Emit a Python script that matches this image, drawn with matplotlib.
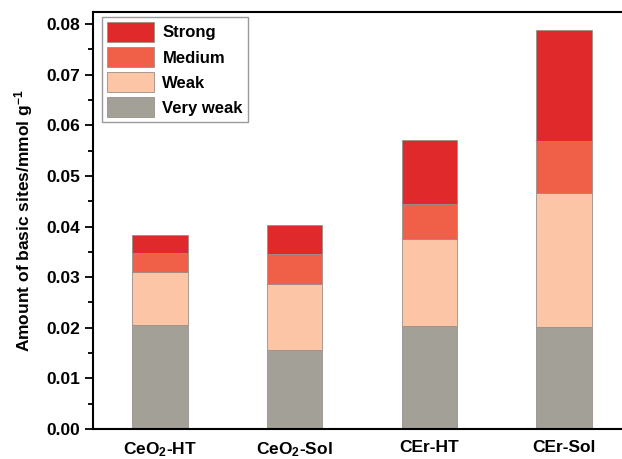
import numpy as np
import matplotlib
matplotlib.use("Agg")
import matplotlib.pyplot as plt

plt.rcParams['font.family'] = ['Liberation Sans', 'DejaVu Sans']
plt.rcParams['font.weight'] = 'bold'
plt.rcParams['axes.labelweight'] = 'bold'
plt.rcParams['mathtext.fontset'] = 'custom'
plt.rcParams['mathtext.rm'] = 'Liberation Sans:bold'
plt.rcParams['mathtext.bf'] = 'Liberation Sans:bold'
plt.rcParams['mathtext.default'] = 'bf'

samples = ["CeO$_2$-HT", "CeO$_2$-Sol", "CEr-HT", "CEr-Sol"]
very_weak = [0.0205, 0.0156, 0.0203, 0.0202]
weak = [0.0106, 0.0131, 0.0172, 0.0265]
medium = [0.0037, 0.0058, 0.0069, 0.0103]
strong = [0.0035, 0.0058, 0.0128, 0.0219]

series = [("Very weak", very_weak, "#a3a097"),
          ("Weak", weak, "#fcc5a5"),
          ("Medium", medium, "#f06048"),
          ("Strong", strong, "#e0292b")]

fig = plt.figure(figsize=(6.22, 4.59), dpi=100)
ax = fig.add_axes([93 / 622, 1 - 429 / 459, 1 - 93 / 622, (429 - 12) / 459])

x = np.arange(len(samples))
bottom = np.zeros(len(samples))
bars = []
for name, vals, col in series:
    b = ax.bar(x, vals, 0.41, bottom=bottom, color=col, edgecolor="#9a8f8a",
               linewidth=0.6, label=name)
    bars.append(b)
    bottom += np.array(vals)

ax.set_xlim(-0.497, 3.43)
ax.set_ylim(0, 0.0824)
ax.set_yticks(np.arange(0, 0.081, 0.01))
ax.set_yticks(np.arange(0.005, 0.081, 0.01), minor=True)
ax.set_yticklabels(["%.2f" % v for v in np.arange(0, 0.081, 0.01)])
ax.set_xticks(x)
ax.set_xticklabels(samples)
ax.tick_params(axis='y', which='major', direction='out', length=6, width=1.3, labelsize=12.5)
ax.tick_params(axis='y', which='minor', direction='out', length=3.5, width=1.3)
ax.tick_params(axis='x', length=0, labelsize=12.5, pad=8)
ax.spines['right'].set_visible(False)
for s in ['left', 'bottom', 'top']:
    ax.spines[s].set_linewidth(1.5)

ax.set_ylabel("Amount of basic sites/mmol g$^{-1}$", fontsize=12.5, labelpad=8)

h = [bars[3], bars[2], bars[1], bars[0]]
leg = ax.legend(h, [s[0] for s in series[::-1]], loc='upper left',
                bbox_to_anchor=(0.002, 1.008), fontsize=12, frameon=True,
                fancybox=False, edgecolor="#808080", handlelength=2.8,
                handleheight=1.45, labelspacing=0.32, borderpad=0.3,
                handletextpad=0.5, borderaxespad=0.5)
leg.get_frame().set_linewidth(1.0)

fig.savefig("out.png", dpi=100)
